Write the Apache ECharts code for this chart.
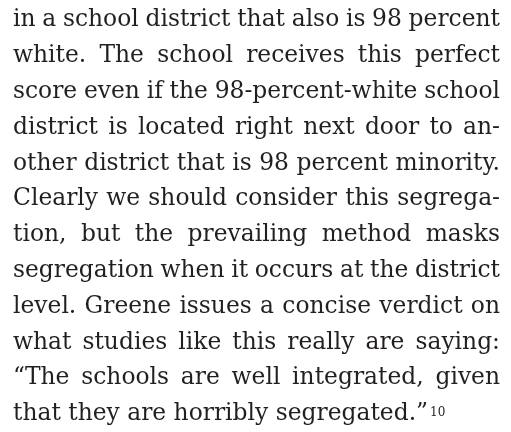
<!DOCTYPE html>
<html>
<head>
<meta charset="utf-8">
<script src="https://cdn.jsdelivr.net/npm/echarts@6/dist/echarts.min.js"></script>
<style>
  html, body { margin: 0; padding: 0; background: #fff; }
  #main { width: 511px; height: 432px; }
</style>
</head>
<body>
<div id="main"></div>
<script>
// justified lines of the paragraph, as set in the page
var lines = [
  'in a school district that also is 98 percent',
  'white. The school receives this perfect',
  'score even if the 98-percent-white school',
  'district is located right next door to an-',
  'other district that is 98 percent minority.',
  'Clearly we should consider this segrega-',
  'tion, but the prevailing method masks',
  'segregation when it occurs at the district',
  'level. Greene issues a concise verdict on',
  'what studies like this really are saying:',
  '\u201cThe schools are well integrated, given'
];
// last line is set ragged, followed by the note number
var lastLine = 'that they are horribly segregated.\u201d';
var noteMark = '10';

var fontFamily = '"DejaVu Serif"';
var fontSize = 23.4;
var left = 13, right = 500;
var firstBase = 28.5, lineGap = 35.8;
var ink = '#231f20';

var ctx = document.createElement('canvas').getContext('2d');
function measure(s, size) {
  ctx.font = size + 'px ' + fontFamily;
  return ctx.measureText(s).width;
}

function word(s, x, base, size) {
  return {
    type: 'text', x: x, y: base - 0.35 * size, silent: true,
    style: { text: s, fontSize: size, fontFamily: fontFamily, fill: ink,
             align: 'left', verticalAlign: 'middle' }
  };
}

var els = [];
var width = right - left;
lines.forEach(function (ln, i) {
  var base = firstBase + i * lineGap;
  var words = ln.split(' ');
  var ws = words.map(function (w) { return measure(w, fontSize); });
  var total = ws.reduce(function (a, b) { return a + b; }, 0);
  var gap = (width - total) / (words.length - 1);
  var x = left;
  words.forEach(function (w, k) {
    els.push(word(w, x, base, fontSize));
    x += ws[k] + gap;
  });
});

var lastBase = firstBase + lines.length * lineGap;
els.push(word(lastLine, left, lastBase, fontSize));
var lw = measure(lastLine, fontSize);
els.push(word(noteMark, left + lw + 2, lastBase - 5, 12));

var chart = echarts.init(document.getElementById('main'));
chart.setOption({
  backgroundColor: '#fff',
  animation: false,
  graphic: { elements: els }
});
</script>
</body>
</html>
